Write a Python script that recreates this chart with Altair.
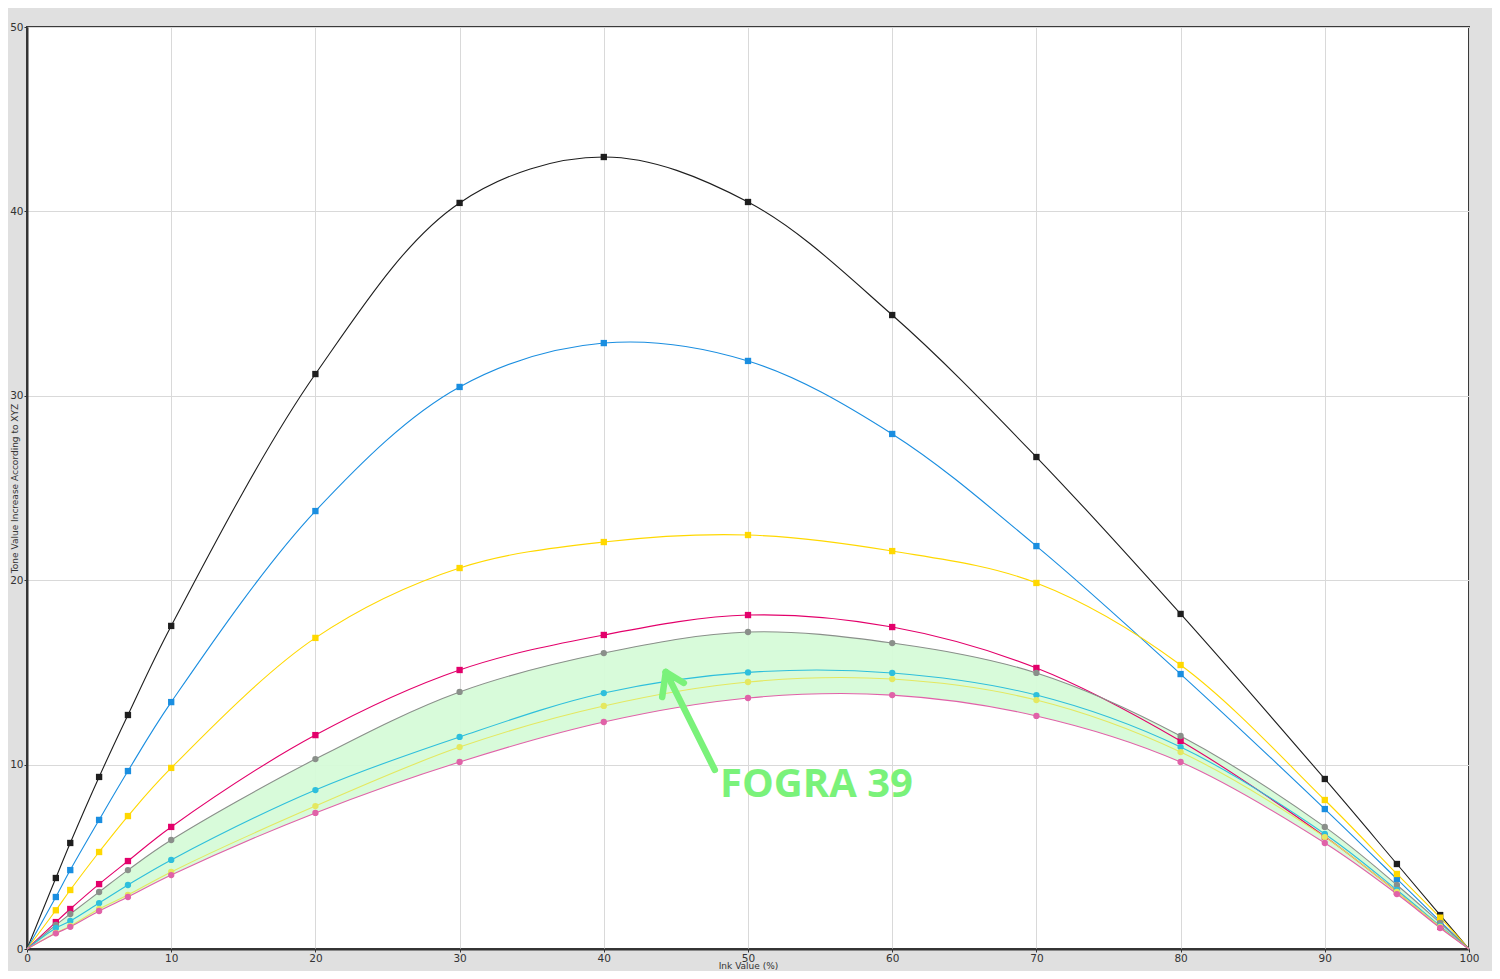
import altair as alt
import pandas as pd

ink = [0, 2, 3, 5, 7, 10, 20, 30, 40, 50, 60, 70, 80, 90, 95, 98, 100]

black = [0, 3.85, 5.75, 9.33, 12.69, 17.52, 31.18, 40.46, 42.95, 40.51, 34.38, 26.68, 18.17, 9.22, 4.61, 1.84, 0]
blue = [0, 2.82, 4.28, 7.0, 9.65, 13.39, 23.75, 30.48, 32.86, 31.89, 27.93, 21.85, 14.91, 7.59, 3.80, 1.5, 0]
yellow = [0, 2.1, 3.2, 5.26, 7.21, 9.82, 16.87, 20.66, 22.07, 22.45, 21.58, 19.85, 15.40, 8.08, 4.07, 1.7, 0]
magenta = [0, 1.46, 2.17, 3.52, 4.77, 6.62, 11.6, 15.13, 17.03, 18.11, 17.46, 15.24, 11.28, 6.1, 3.1, 1.2, 0]
f_gray = [0, 1.30, 1.9, 3.09, 4.28, 5.91, 10.30, 13.94, 16.05, 17.19, 16.59, 14.97, 11.55, 6.62, 3.47, 1.41, 0]
f_cyan = [0, 1.14, 1.52, 2.49, 3.47, 4.83, 8.62, 11.5, 13.88, 15.0, 14.97, 13.77, 10.95, 6.24, 3.2, 1.25, 0]
f_yellow = [0, 0.87, 1.25, 2.17, 2.93, 4.18, 7.75, 10.95, 13.18, 14.48, 14.64, 13.5, 10.68, 6.07, 3.09, 1.2, 0]
f_pink = [0, 0.85, 1.2, 2.06, 2.82, 4.01, 7.38, 10.14, 12.31, 13.61, 13.77, 12.64, 10.14, 5.75, 2.98, 1.14, 0]

series_names = ["Black", "Cyan", "Yellow", "Magenta", "FOGRA K", "FOGRA C", "FOGRA Y", "FOGRA M"]
series_values = [black, blue, yellow, magenta, f_gray, f_cyan, f_yellow, f_pink]
series_colors = ["#1e1e1e", "#1a8ee0", "#ffd800", "#e3006b", "#8a8f8a", "#2ebfdc", "#e4e860", "#e062a8"]
series_shapes = ["square", "square", "square", "square", "circle", "circle", "circle", "circle"]

annotation_text = "FOGRA 39"
text_pos = [48.06, 8.24]
arrow_segments = [
    [47.7, 9.71, 44.3, 15.02],
    [44.3, 15.02, 44.05, 13.67],
    [44.3, 15.02, 45.55, 14.43],
]

rows = []
for name, vals, shp in zip(series_names, series_values, series_shapes):
    for i, (xv, yv) in enumerate(zip(ink, vals)):
        rows.append({"series": name, "ink": xv, "tvi": yv, "shape": shp,
                     "marker": 0 < xv < 100, "order": i})
df = pd.DataFrame(rows)

band = pd.DataFrame({"ink": ink, "top": f_gray, "bottom": f_pink})
arrows = pd.DataFrame(arrow_segments, columns=["x", "y", "x2", "y2"])
label = pd.DataFrame({"x": [text_pos[0]], "y": [text_pos[1]], "t": [annotation_text]})

xscale = alt.Scale(domain=[0, 100], nice=False, zero=False)
yscale = alt.Scale(domain=[0, 50], nice=False)
cscale = alt.Scale(domain=series_names, range=series_colors)

xaxis = alt.Axis(title="Ink Value (%)", values=list(range(0, 101, 10)), labelPadding=1, labelFlush=False,
                 titleY=19.5, titleBaseline="alphabetic", titleFontSize=9, titleFontWeight="normal")
yaxis = alt.Axis(title="Tone Value Increase According to XYZ", values=list(range(0, 51, 10)),
                 labelPadding=1, labelFlush=False, titleX=-12.5, titleY=461, titleAngle=270,
                 titleBaseline="middle", titleFontSize=9, titleFontWeight="normal")

area = alt.Chart(band).mark_area(color="#d6fbd8", opacity=0.95, interpolate="catmull-rom").encode(
    x=alt.X("ink:Q", scale=xscale, axis=xaxis),
    y=alt.Y("top:Q", scale=yscale, axis=yaxis),
    y2="bottom:Q",
)

lines = alt.Chart(df).mark_line(strokeWidth=1.1, interpolate="catmull-rom").encode(
    x=alt.X("ink:Q", scale=xscale),
    y=alt.Y("tvi:Q", scale=yscale),
    color=alt.Color("series:N", scale=cscale, legend=None),
    detail="series:N",
    order="order:Q",
)

points = alt.Chart(df).transform_filter("datum.marker").mark_point(filled=True, opacity=1, size=40).encode(
    x=alt.X("ink:Q", scale=xscale),
    y=alt.Y("tvi:Q", scale=yscale),
    color=alt.Color("series:N", scale=cscale, legend=None),
    shape=alt.Shape("shape:N", scale=None),
)

arrow = alt.Chart(arrows).mark_rule(color="#7af27a", strokeWidth=6.5, strokeCap="round").encode(
    x=alt.X("x:Q", scale=xscale), y=alt.Y("y:Q", scale=yscale),
    x2="x2:Q", y2="y2:Q",
)

text = alt.Chart(label).mark_text(align="left", baseline="alphabetic", font="Open Sans",
                                  fontSize=40, fontWeight="bold", color="#7af27a").encode(
    x=alt.X("x:Q", scale=xscale), y=alt.Y("y:Q", scale=yscale), text="t:N",
)

chart = alt.layer(area, lines, points, arrow, text).properties(
    width=1442, height=922,
    autosize=alt.AutoSizeParams(type="none"),
    padding={"left": 19, "top": 19, "right": 23, "bottom": 22},
    background="#e0e0e0",
).configure_view(
    fill="#ffffff", stroke="#3a3a3a", strokeWidth=2,
).configure_axis(
    grid=True, gridColor="#d9d9d9", gridWidth=1,
    domainColor="#333333", domainWidth=2,
    tickColor="#333333", tickSize=3,
    labelFont="DejaVu Sans", labelFontSize=10.5, labelColor="#333333",
    titleFont="DejaVu Sans", titleColor="#333333",
)

chart.save("out.html", embed_options={"renderer": "svg", "actions": False})
